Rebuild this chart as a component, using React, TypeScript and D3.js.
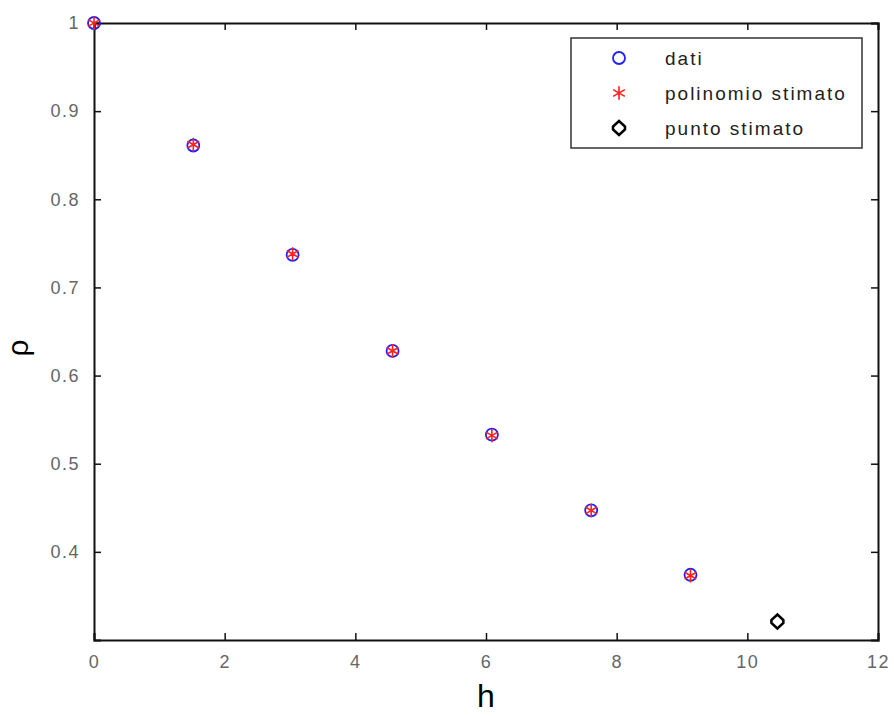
import React, { useRef, useEffect } from 'react';
import * as d3 from 'd3';

// values
const hData = [0, 1.52, 3.04, 4.57, 6.09, 7.61, 9.13];
const rhoData = [1.0, 0.861, 0.737, 0.628, 0.533, 0.447, 0.374];
const rhoFit = [1.0, 0.862, 0.738, 0.628, 0.532, 0.447, 0.373];
const hEst = [10.46];
const rhoEst = [0.321];
const xTicks = [0, 2, 4, 6, 8, 10, 12];
const yTicks = [0.4, 0.5, 0.6, 0.7, 0.8, 0.9, 1];
const legendLabels = ['dati', 'polinomio stimato', 'punto stimato'];

function App() {
    const svgRef = useRef<SVGSVGElement>(null);

    useEffect(() => {
        const w = 894;
        const h = 717;
        const m = { left: 94, right: 16, top: 23, bottom: 77 };
        const svg = d3.select(svgRef.current)
            .attr('width', w)
            .attr('height', h)
            .style('position', 'absolute')
            .style('left', '0')
            .style('top', '0');
        svg.selectAll('*').remove();

        const x = d3.scaleLinear().domain([0, 12]).range([m.left, w - m.right]);
        const y = d3.scaleLinear().domain([0.3, 1]).range([h - m.bottom, m.top]);

        const font = '"Liberation Sans Narrow", Arial, "Liberation Sans", sans-serif';
        const font2 = 'Arial, "Liberation Sans", sans-serif';

        // axes, ticks pointing inward on all four sides
        const bottom = svg.append('g')
            .attr('transform', `translate(0, ${y(0.3)})`)
            .call(d3.axisBottom(x).tickValues(xTicks).tickSize(-7).tickPadding(15).tickFormat(d3.format('d')));
        const top = svg.append('g')
            .attr('transform', `translate(0, ${y(1)})`)
            .call(d3.axisTop(x).tickValues(xTicks).tickSize(-7).tickFormat(() => ''));
        const left = svg.append('g')
            .attr('transform', `translate(${x(0)}, 0)`)
            .call(d3.axisLeft(y).tickValues(yTicks).tickSize(-7).tickPadding(14).tickFormat(d => String(+d)));
        const right = svg.append('g')
            .attr('transform', `translate(${x(12)}, 0)`)
            .call(d3.axisRight(y).tickValues(yTicks).tickSize(-7).tickFormat(() => ''));

        [bottom, top, left, right].forEach(g => {
            g.select('.domain').attr('stroke', '#111').attr('stroke-width', 2);
            g.selectAll('.tick line').attr('stroke', '#111').attr('stroke-width', 1.5);
            g.selectAll('.tick text')
                .attr('fill', '#666')
                .style('font-family', font)
                .style('font-size', '18px')
                .style('letter-spacing', '1.5px');
        });

        // axis labels
        svg.append('text')
            .attr('x', x(6))
            .attr('y', 707)
            .attr('text-anchor', 'middle')
            .style('font-family', font2)
            .style('font-size', '32px')
            .text('h');
        svg.append('text')
            .attr('transform', `translate(28, 348) rotate(-90)`)
            .attr('text-anchor', 'middle')
            .style('font-family', font2)
            .style('font-size', '30px')
            .text('ρ');

        const star = d3.symbol().type(d3.symbolAsterisk).size(130);
        const diamond = 'M0,-7 L6,-1.5 L6,1.5 L0,7 L-6,1.5 L-6,-1.5 Z';

        // dati
        svg.append('g').selectAll('circle')
            .data(hData)
            .join('circle')
            .attr('cx', d => x(d))
            .attr('cy', (d, i) => y(rhoData[i]))
            .attr('r', 6)
            .attr('fill', 'none')
            .attr('stroke', '#2020ff')
            .attr('stroke-width', 1.8);

        // polinomio stimato
        svg.append('g').selectAll('path')
            .data(hData)
            .join('path')
            .attr('transform', (d, i) => `translate(${x(d)}, ${y(rhoFit[i])})`)
            .attr('d', star)
            .attr('fill', 'none')
            .attr('stroke', '#ff2020')
            .attr('stroke-width', 1.6);

        // punto stimato
        svg.append('g').selectAll('path')
            .data(hEst)
            .join('path')
            .attr('transform', (d, i) => `translate(${x(d)}, ${y(rhoEst[i])})`)
            .attr('d', diamond)
            .attr('fill', 'none')
            .attr('stroke', '#000')
            .attr('stroke-width', 2.5);

        // legend
        const lg = svg.append('g').attr('transform', 'translate(571, 38)');
        lg.append('rect')
            .attr('width', 291)
            .attr('height', 110)
            .attr('fill', '#fff')
            .attr('stroke', '#333')
            .attr('stroke-width', 1.5);
        const rows = lg.selectAll('g.row')
            .data(legendLabels)
            .join('g')
            .attr('class', 'row')
            .attr('transform', (d, i) => `translate(48, ${20 + i * 35})`);
        rows.each(function (d, i) {
            const g = d3.select(this);
            if (i === 0) {
                g.append('circle').attr('r', 6).attr('fill', 'none').attr('stroke', '#2020ff').attr('stroke-width', 1.8);
            } else if (i === 1) {
                g.append('path').attr('d', star).attr('fill', 'none').attr('stroke', '#ff2020').attr('stroke-width', 1.6);
            } else {
                g.append('path').attr('d', diamond).attr('fill', 'none').attr('stroke', '#000').attr('stroke-width', 2.5);
            }
        });
        rows.append('text')
            .attr('x', 46)
            .attr('dy', '0.35em')
            .style('font-family', font)
            .style('font-size', '19px')
            .style('letter-spacing', '2px')
            .attr('fill', '#222')
            .text(d => d);
    }, []);

    return <svg ref={svgRef}></svg>;
}

export default App;
